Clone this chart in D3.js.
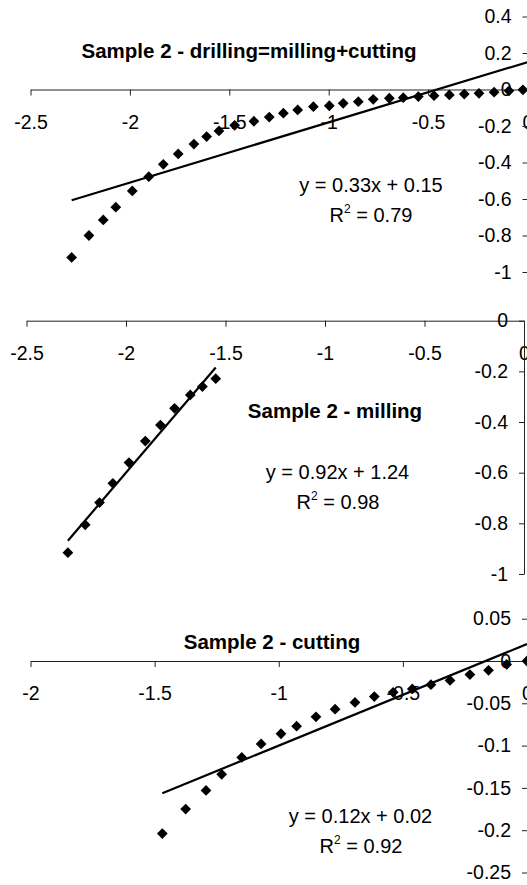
<!DOCTYPE html>
<html>
<head>
<meta charset="utf-8">
<script src="https://cdn.jsdelivr.net/npm/d3@7"></script>
<style>
  body { margin: 0; background: #fff; }
  svg { display: block; font-family: "Liberation Sans", Arial, sans-serif; }
</style>
</head>
<body>
<div id="chart"></div>
<script>
const w = 527
const h = 885

// Sample 2 - drilling=milling+cutting
const drillX = [-2.293, -2.206, -2.134, -2.071, -1.988, -1.905, -1.832, -1.757, -1.678, -1.614, -1.552,
  -1.473, -1.376, -1.299, -1.228, -1.156, -1.077, -0.997, -0.927, -0.851, -0.776, -0.695, -0.625,
  -0.549, -0.470, -0.393, -0.318, -0.244, -0.168, -0.093, -0.023]
const drillY = [-0.92, -0.80, -0.715, -0.645, -0.556, -0.478, -0.41, -0.353, -0.299, -0.258, -0.227,
  -0.196, -0.174, -0.151, -0.13, -0.112, -0.094, -0.089, -0.076, -0.067, -0.054, -0.048, -0.045,
  -0.039, -0.034, -0.030, -0.025, -0.021, -0.015, -0.007, -0.002]
const drillFit = [0.33, 0.15]          // slope, intercept
const drillFitRange = [-2.293, 0]
const drillXTicks = [-2.5, -2, -1.5, -1, -0.5, 0]
const drillYTicks = [0.4, 0.2, 0, -0.2, -0.4, -0.6, -0.8, -1]

// Sample 2 - milling
const millX = [-2.292, -2.205, -2.133, -2.066, -1.985, -1.903, -1.827, -1.756, -1.677, -1.616, -1.549]
const millY = [-0.916, -0.806, -0.718, -0.642, -0.56, -0.475, -0.412, -0.346, -0.293, -0.26, -0.229]
const millFit = [0.92, 1.24]
const millFitRange = [-2.292, -1.549]
const millXTicks = [-2.5, -2, -1.5, -1, -0.5, 0]
const millYTicks = [0, -0.2, -0.4, -0.6, -0.8, -1]

// Sample 2 - cutting
const cutX = [-1.469, -1.375, -1.293, -1.230, -1.149, -1.071, -0.991, -0.928, -0.850, -0.773,
  -0.693, -0.615, -0.539, -0.462, -0.387, -0.310, -0.230, -0.155, -0.082, 0.0]
const cutY = [-0.204, -0.175, -0.153, -0.134, -0.114, -0.098, -0.086, -0.077, -0.066, -0.057,
  -0.049, -0.042, -0.037, -0.033, -0.028, -0.023, -0.016, -0.011, -0.004, 0.0]
const cutFit = [0.12, 0.02]
const cutFitRange = [-1.469, 0]
const cutXTicks = [-2, -1.5, -1, -0.5, 0]
const cutYTicks = [0.05, 0, -0.05, -0.1, -0.15, -0.2, -0.25]

const svg = d3.select("#chart")
  .append("svg")
  .attr("width", w)
  .attr("height", h)

const fmt = d => String(d)

const drawPanel = function (p) {
  const g = svg.append("g")

  const x = d3.scaleLinear().domain(p.xDomain).range(p.xRange)
  const y = d3.scaleLinear().domain(p.yDomain).range(p.yRange)

  // x axis sits on y = 0
  g.append("g")
    .attr("transform", "translate(0," + y(0) + ")")
    .call(d3.axisBottom(x).tickValues(p.xTicks).tickFormat(fmt)
      .tickSize(6).tickSizeOuter(0).tickPadding(19.5))

  // y axis sits on x = 0
  g.append("g")
    .attr("transform", "translate(" + x(0) + ",0)")
    .call(d3.axisLeft(y).tickValues(p.yTicks).tickFormat(fmt)
      .tickSize(5).tickSizeOuter(0).tickPadding(11))

  g.selectAll(".domain, .tick line").attr("stroke", "#222").attr("stroke-width", 1)
  g.selectAll(".tick text")
    .attr("fill", "#000")
    .attr("font-size", 19.5)
    .attr("font-family", "Liberation Sans, Arial, sans-serif")

  // title
  g.append("text")
    .attr("x", p.titlePos[0])
    .attr("y", p.titlePos[1])
    .attr("text-anchor", "middle")
    .attr("font-weight", "bold")
    .attr("font-size", 20.5)
    .text(p.title)

  // trendline
  const fitLine = d3.line()
    .x(d => x(d))
    .y(d => y(p.fit[0] * d + p.fit[1]))
  g.append("path")
    .datum(p.fitRange)
    .attr("fill", "none")
    .attr("stroke", "#000")
    .attr("stroke-width", 2.2)
    .attr("d", fitLine)

  // points (diamonds)
  const pts = d3.zip(p.xs, p.ys)
  g.selectAll(".pt")
    .data(pts)
    .enter()
    .append("path")
    .attr("class", "pt")
    .attr("d", d3.symbol(d3.symbolSquare, 58))
    .attr("transform", d => "translate(" + x(d[0]) + "," + y(d[1]) + ") rotate(45)")
    .attr("fill", "#000")

  // equation + R squared
  g.append("text")
    .attr("x", p.eqPos[0])
    .attr("y", p.eqPos[1])
    .attr("text-anchor", "middle")
    .attr("font-size", 20)
    .text("y = " + p.fit[0].toFixed(2) + "x + " + p.fit[1].toFixed(2))

  const r2 = g.append("text")
    .attr("x", p.r2Pos[0])
    .attr("y", p.r2Pos[1])
    .attr("text-anchor", "middle")
    .attr("font-size", 20)
  r2.append("tspan").text("R")
  r2.append("tspan").attr("font-size", 12).attr("dy", -9).text("2")
  r2.append("tspan").attr("dy", 9).text(" = " + p.r2)
}

drawPanel({
  xs: drillX, ys: drillY, fit: drillFit, fitRange: drillFitRange, r2: "0.79",
  xTicks: drillXTicks, yTicks: drillYTicks,
  xDomain: [-2.5, 0], xRange: [30.5, 527.5],
  yDomain: [-1, 0.4], yRange: [272, 16.5],
  title: "Sample 2 - drilling=milling+cutting", titlePos: [249, 57.5],
  eqPos: [371, 191.5], r2Pos: [371, 221.5]
})

drawPanel({
  xs: millX, ys: millY, fit: millFit, fitRange: millFitRange, r2: "0.98",
  xTicks: millXTicks, yTicks: millYTicks,
  xDomain: [-2.5, 0], xRange: [26.5, 524],
  yDomain: [-1, 0], yRange: [574, 320.7],
  title: "Sample 2 - milling", titlePos: [335, 417.5],
  eqPos: [337.5, 479], r2Pos: [338, 508.5]
})

drawPanel({
  xs: cutX, ys: cutY, fit: cutFit, fitRange: cutFitRange, r2: "0.92",
  xTicks: cutXTicks, yTicks: cutYTicks,
  xDomain: [-2, 0], xRange: [30.5, 527],
  yDomain: [-0.25, 0.05], yRange: [872.5, 618.7],
  title: "Sample 2 - cutting", titlePos: [272, 648.5],
  eqPos: [360.5, 822.5], r2Pos: [361, 852.5]
})
</script>
</body>
</html>
